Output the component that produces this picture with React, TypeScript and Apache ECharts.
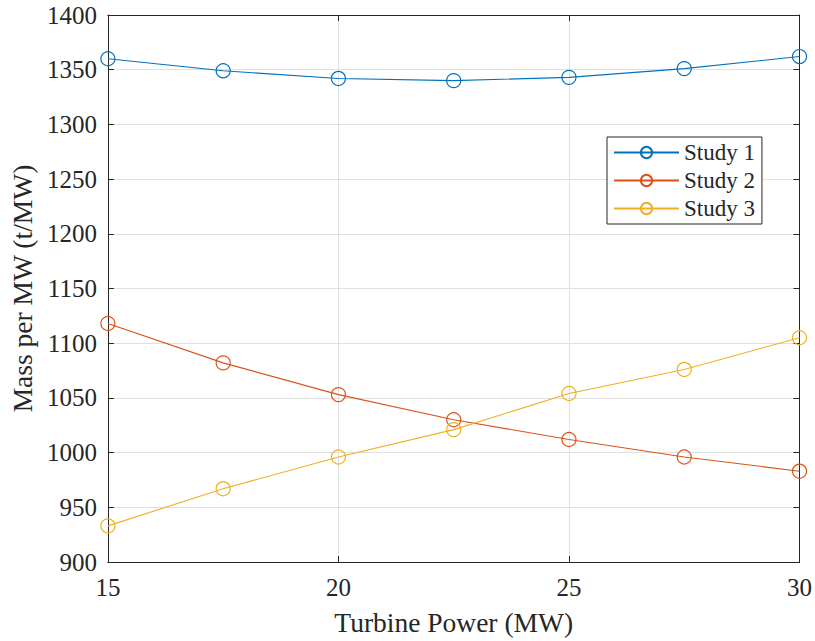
import React, { useEffect, useRef } from "react";
import * as echarts from "echarts";

const power = [15, 17.5, 20, 22.5, 25, 27.5, 30];
const study1 = [1360, 1349, 1342, 1340, 1343, 1351, 1362];
const study2 = [1118, 1082, 1053, 1030, 1012, 996, 983];
const study3 = [933, 967, 996, 1021, 1054, 1076, 1105];
const seriesNames = ["Study 1", "Study 2", "Study 3"];
const colors = ["#0072BD", "#D95319", "#EDB120"];

const FONT = "Liberation Serif";
const TICK_FONT = "'Times New Roman', 'Liberation Serif', serif";

export default function App() {
  const ref = useRef<HTMLDivElement>(null);
  useEffect(() => {
    document.body.style.margin = "0";
    const chart = echarts.init(ref.current!, null, { renderer: "svg" });
    const data = [study1, study2, study3];
    const mkLine = () => ({ show: true, lineStyle: { color: "#262626", width: 1 } });
    const mkTick = () => ({ show: true, inside: true, length: 6, lineStyle: { color: "#262626" } });
    const mkLabel = (margin: number) => ({
      show: true,
      fontFamily: TICK_FONT,
      fontSize: 25,
      fontWeight: "normal",
      color: "#262626",
      margin,
      formatter: (v: number) => String(v),
    });
    const xBase = { type: "value", min: 15, max: 30, interval: 5 };
    const yBase = { type: "value", min: 900, max: 1400, interval: 50 };
    chart.setOption({
      animation: false,
      backgroundColor: "#ffffff",
      textStyle: { fontFamily: FONT, color: "#262626" },
      grid: { left: 106, right: 15, top: 15, bottom: 78, containLabel: false },
      legend: {
        orient: "vertical",
        left: 607,
        top: 137,
        borderColor: "#262626",
        borderWidth: 1,
        backgroundColor: "#ffffff",
        padding: [4, 7, 4, 6],
        itemGap: 5,
        itemWidth: 65,
        itemHeight: 14,
        textStyle: { fontFamily: FONT, fontSize: 23, color: "#262626" },
        data: seriesNames,
      },
      xAxis: [
        {
          ...xBase,
          name: "Turbine Power (MW)",
          nameLocation: "middle",
          nameGap: 46,
          nameTextStyle: { fontFamily: FONT, fontSize: 27.5, color: "#262626" },
          axisLine: mkLine(),
          axisTick: mkTick(),
          axisLabel: mkLabel(13),
          splitLine: { show: true, lineStyle: { color: "#e0e0e0", width: 1 } },
        },
        {
          ...xBase,
          position: "top",
          axisLine: mkLine(),
          axisTick: mkTick(),
          axisLabel: { show: false },
          splitLine: { show: false },
        },
      ],
      yAxis: [
        {
          ...yBase,
          name: "Mass per MW (t/MW)",
          nameLocation: "middle",
          nameGap: 65,
          nameTextStyle: { fontFamily: FONT, fontSize: 27.5, color: "#262626" },
          axisLine: mkLine(),
          axisTick: mkTick(),
          axisLabel: mkLabel(11),
          splitLine: { show: true, lineStyle: { color: "#e0e0e0", width: 1 } },
        },
        {
          ...yBase,
          position: "right",
          axisLine: mkLine(),
          axisTick: mkTick(),
          axisLabel: { show: false },
          splitLine: { show: false },
        },
      ],
      series: seriesNames.map((name, i) => ({
        name,
        type: "line",
        xAxisIndex: 0,
        yAxisIndex: 0,
        data: power.map((p, j) => [p, data[i][j]]),
        symbol: "circle",
        symbolSize: 14,
        itemStyle: { color: "rgba(255,255,255,0)", borderColor: colors[i], borderWidth: 1.2 },
        lineStyle: { color: colors[i], width: 1.1 },
      })),
    });
    return () => chart.dispose();
  }, []);
  return <div ref={ref} style={{ width: 815, height: 641 }} />;
}
